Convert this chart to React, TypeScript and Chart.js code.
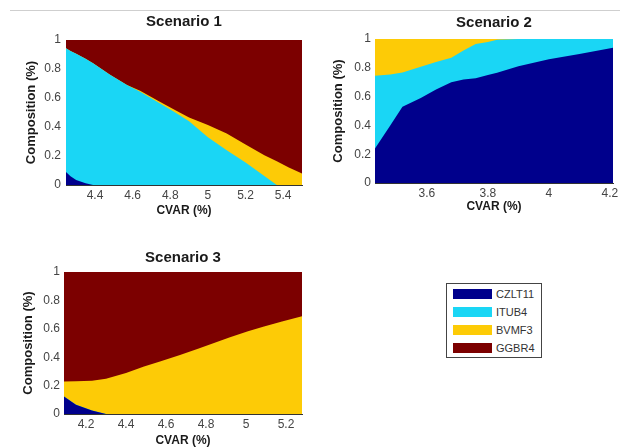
import React, { useEffect, useRef } from "react";
import { Chart, registerables } from "chart.js";

Chart.register(...registerables);

const FONT = "'Liberation Sans', Arial, Helvetica, sans-serif";

// ---- Series / legend ----
const seriesNames = ["CZLT11", "ITUB4", "BVMF3", "GGBR4"];
const seriesColors = ["#00008c", "#1ad6f5", "#fdcb06", "#7c0000"];

// ---- Shared tick labels ----
const yTicks = [0, 0.2, 0.4, 0.6, 0.8, 1];

// ---- Scenario 1 ----
const s1Cvar = [4.246, 4.27, 4.3, 4.35, 4.39, 4.48, 4.57, 4.64, 4.73, 4.82, 4.9, 5.0, 5.1, 5.2, 5.3, 5.366, 5.43, 5.5];
const s1CZLT11 = [0.09, 0.06, 0.035, 0.012, 0, 0, 0, 0, 0, 0, 0, 0, 0, 0, 0, 0, 0, 0];
const s1ITUB4 = [0.853, 0.865, 0.87, 0.858, 0.84, 0.76, 0.69, 0.643, 0.575, 0.505, 0.44, 0.33, 0.24, 0.155, 0.062, 0, 0, 0];
const s1BVMF3 = [0, 0, 0, 0, 0, 0, 0, 0.007, 0.01, 0.015, 0.025, 0.084, 0.115, 0.125, 0.143, 0.163, 0.12, 0.08];
const s1GGBR4 = [0.057, 0.075, 0.095, 0.13, 0.16, 0.24, 0.31, 0.35, 0.415, 0.48, 0.535, 0.586, 0.645, 0.72, 0.795, 0.837, 0.88, 0.92];
const s1XTicks = [4.4, 4.6, 4.8, 5, 5.2, 5.4];

// ---- Scenario 2 ----
const s2Cvar = [3.43, 3.48, 3.52, 3.58, 3.63, 3.68, 3.72, 3.76, 3.8, 3.83, 3.9, 4.0, 4.1, 4.21];
const s2CZLT11 = [0.24, 0.4, 0.53, 0.59, 0.65, 0.7, 0.718, 0.727, 0.75, 0.765, 0.81, 0.86, 0.896, 0.94];
const s2ITUB4 = [0.505, 0.354, 0.238, 0.217, 0.19, 0.17, 0.202, 0.238, 0.23, 0.23, 0.19, 0.14, 0.104, 0.06];
const s2BVMF3 = [0.255, 0.246, 0.232, 0.193, 0.16, 0.13, 0.08, 0.035, 0.02, 0.005, 0, 0, 0, 0];
const s2GGBR4 = [0, 0, 0, 0, 0, 0, 0, 0, 0, 0, 0, 0, 0, 0];
const s2XTicks = [3.6, 3.8, 4, 4.2];

// ---- Scenario 3 ----
const s3Cvar = [4.09, 4.15, 4.23, 4.3, 4.4, 4.49, 4.57, 4.67, 4.76, 4.84, 4.92, 5.01, 5.09, 5.18, 5.28];
const s3CZLT11 = [0.124, 0.065, 0.025, 0, 0, 0, 0, 0, 0, 0, 0, 0, 0, 0, 0];
const s3ITUB4 = [0, 0, 0, 0, 0, 0, 0, 0, 0, 0, 0, 0, 0, 0, 0];
const s3BVMF3 = [0.105, 0.165, 0.209, 0.249, 0.288, 0.335, 0.37, 0.415, 0.46, 0.5, 0.54, 0.582, 0.617, 0.652, 0.688];
const s3GGBR4 = [0.771, 0.77, 0.766, 0.751, 0.712, 0.665, 0.63, 0.585, 0.54, 0.5, 0.46, 0.418, 0.383, 0.348, 0.312];
const s3XTicks = [4.2, 4.4, 4.6, 4.8, 5, 5.2];

function cumulative(series: number[][]): number[][] {
  const out: number[][] = [];
  let acc = series[0].map(() => 0);
  for (const s of series) {
    acc = acc.map((a, i) => a + s[i]);
    out.push(acc.slice());
  }
  return out;
}

type Box = {
  left: number; top: number; w: number; h: number;
  padRight: number; titleTop: number; titleBottom: number;
  xAxisHeight: number; xTitleBottom: number;
  yAxisWidth: number; yTickPad: number; yTitleTop: number;
};

function AreaChart(props: { title: string; cvar: number[]; series: number[][]; xTicks: number[]; box: Box }) {
  const { title, cvar, series, xTicks, box } = props;
  const ref = useRef<HTMLCanvasElement>(null);
  useEffect(() => {
    const cum = cumulative(series);
    const chart = new Chart(ref.current as HTMLCanvasElement, {
      type: "line",
      data: {
        datasets: cum.map((ys, k) => ({
          label: seriesNames[k],
          data: cvar.map((x, i) => ({ x, y: ys[i] })),
          backgroundColor: seriesColors[k],
          borderColor: "rgba(0,0,0,0)",
          borderWidth: 0,
          pointRadius: 0,
          fill: "origin",
          tension: 0,
        })),
      },
      options: {
        responsive: false,
        animation: false,
        events: [],
        layout: { padding: { left: 0, right: box.padRight, top: 0, bottom: 0 } },
        plugins: {
          legend: { display: false },
          tooltip: { enabled: false },
          title: {
            display: true,
            fullSize: false,
            text: title,
            color: "#1a1a1a",
            font: { family: FONT, size: 15, weight: "bold", lineHeight: 1.2 },
            padding: { top: box.titleTop, bottom: box.titleBottom },
          },
        },
        scales: {
          x: {
            type: "linear",
            min: cvar[0],
            max: cvar[cvar.length - 1],
            z: 1,
            grid: { display: false, drawTicks: false },
            border: { display: true, color: "#333", width: 1 },
            afterBuildTicks: (s: any) => { s.ticks = xTicks.map((v) => ({ value: v })); },
            afterFit: (s: any) => { s.height = box.xAxisHeight; },
            ticks: {
              color: "#444",
              font: { family: FONT, size: 12 },
              padding: 3,
              maxRotation: 0,
              autoSkip: false,
              callback: (v: any) => String(v),
            },
            title: {
              display: true,
              text: "CVAR (%)",
              color: "#1a1a1a",
              font: { family: FONT, size: 12, weight: "bold", lineHeight: 1 },
              padding: { top: 0, bottom: box.xTitleBottom },
            },
          },
          y: {
            type: "linear",
            min: 0,
            max: 1,
            z: 1,
            grid: { display: false, drawTicks: false },
            border: { display: true, color: "#333", width: 1 },
            afterBuildTicks: (s: any) => { s.ticks = yTicks.map((v) => ({ value: v })); },
            afterFit: (s: any) => { s.width = box.yAxisWidth; },
            ticks: {
              color: "#444",
              font: { family: FONT, size: 12 },
              padding: box.yTickPad,
              autoSkip: false,
              callback: (v: any) => String(v),
            },
            title: {
              display: true,
              text: "Composition (%)",
              color: "#1a1a1a",
              font: { family: FONT, size: 13, weight: "bold", lineHeight: 1.2 },
              padding: { top: box.yTitleTop, bottom: 0 },
            },
          },
        },
      } as any,
    });
    return () => chart.destroy();
  }, []);
  return (
    <canvas
      ref={ref}
      width={box.w}
      height={box.h}
      style={{ position: "absolute", left: box.left, top: box.top, width: box.w, height: box.h }}
    />
  );
}

function Legend() {
  const rowTops = [289, 307, 325, 343];
  return (
    <div
      style={{
        position: "absolute", left: 446, top: 283, width: 94, height: 73,
        border: "1px solid #444", background: "#fff",
      }}
    >
      {seriesNames.map((n, i) => (
        <React.Fragment key={n}>
          <div
            style={{
              position: "absolute", left: 6, top: rowTops[i] - 284, width: 39, height: 10,
              background: seriesColors[i],
            }}
          />
          <div
            style={{
              position: "absolute", left: 49, top: rowTops[i] - 286, height: 14, lineHeight: "14px",
              fontFamily: FONT, fontSize: 11, color: "#333",
            }}
          >
            {n}
          </div>
        </React.Fragment>
      ))}
    </div>
  );
}

export default function App() {
  return (
    <div
      style={{
        position: "absolute", left: 0, top: 0, width: 625, height: 447,
        background: "#fff", overflow: "hidden",
      }}
    >
      <div style={{ position: "absolute", left: 10, top: 10, width: 610, height: 1, background: "#cfcfcf" }} />
      <AreaChart
        title="Scenario 1"
        cvar={s1Cvar}
        series={[s1CZLT11, s1ITUB4, s1BVMF3, s1GGBR4]}
        xTicks={s1XTicks}
        box={{ left: 0, top: 0, w: 312, h: 222, padRight: 10, titleTop: 13, titleBottom: 9, xAxisHeight: 37, xTitleBottom: 5.5, yAxisWidth: 66, yTickPad: 5, yTitleTop: 24 }}
      />
      <AreaChart
        title="Scenario 2"
        cvar={s2Cvar}
        series={[s2CZLT11, s2ITUB4, s2BVMF3, s2GGBR4]}
        xTicks={s2XTicks}
        box={{ left: 312, top: 0, w: 313, h: 222, padRight: 12, titleTop: 14, titleBottom: 7, xAxisHeight: 39, xTitleBottom: 9, yAxisWidth: 63, yTickPad: 4, yTitleTop: 19 }}
      />
      <AreaChart
        title="Scenario 3"
        cvar={s3Cvar}
        series={[s3CZLT11, s3ITUB4, s3BVMF3, s3GGBR4]}
        xTicks={s3XTicks}
        box={{ left: 0, top: 230, w: 312, h: 217, padRight: 10, titleTop: 19, titleBottom: 5, xAxisHeight: 33, xTitleBottom: 0, yAxisWidth: 64, yTickPad: 4, yTitleTop: 21 }}
      />
      <Legend />
    </div>
  );
}
